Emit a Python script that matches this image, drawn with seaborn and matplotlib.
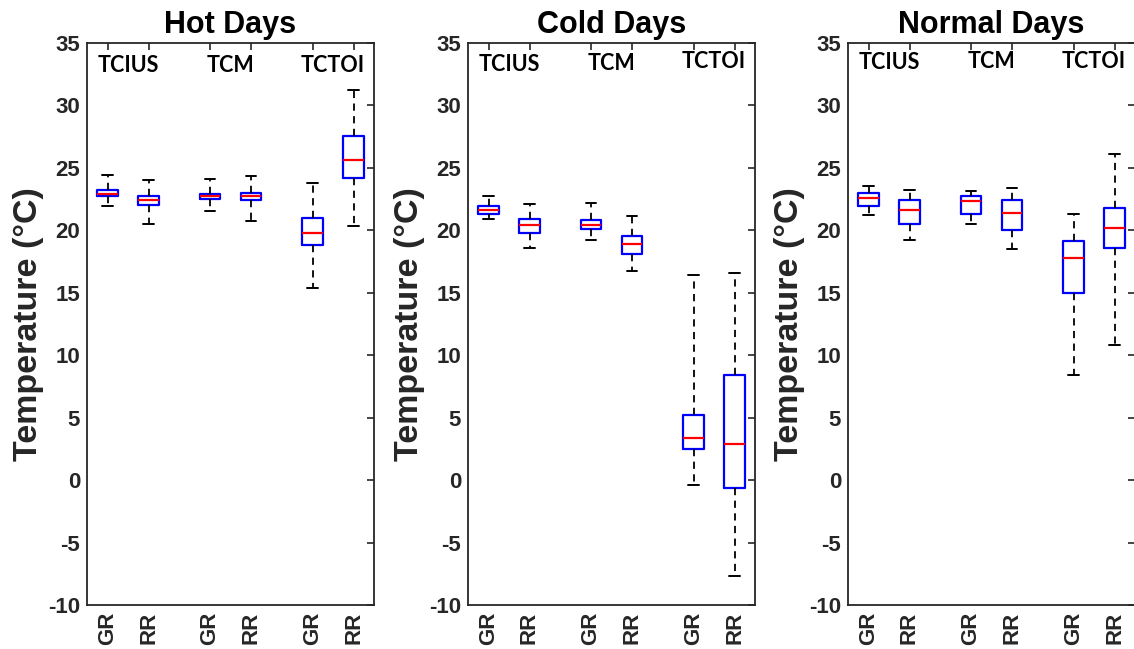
import numpy as np
import pandas as pd
import matplotlib
matplotlib.use("Agg")
import matplotlib.pyplot as plt
import seaborn as sns

# Box positions and labels (two sites per monitoring campaign)
positions = [1, 2, 3.5, 4.5, 6, 7]
site_labels = ["GR", "RR", "GR", "RR", "GR", "RR"]
group_names = ["TCIUS", "TCM", "TCTOI"]
group_centers = [1.5, 4.0, 6.5]
panel_titles = ["Hot Days", "Cold Days", "Normal Days"]

# Box statistics per panel: whisker low, Q1, median, Q3, whisker high
hot_low = [21.9, 20.5, 21.5, 20.7, 15.4, 20.3]
hot_q1 = [22.7, 22.0, 22.5, 22.4, 18.8, 24.2]
hot_median = [22.9, 22.4, 22.7, 22.7, 19.8, 25.6]
hot_q3 = [23.2, 22.7, 22.9, 23.0, 21.0, 27.5]
hot_high = [24.4, 24.0, 24.1, 24.3, 23.8, 31.2]

cold_low = [20.9, 18.6, 19.2, 16.7, -0.4, -7.7]
cold_q1 = [21.3, 19.8, 20.1, 18.1, 2.5, -0.6]
cold_median = [21.6, 20.4, 20.4, 18.9, 3.4, 2.9]
cold_q3 = [21.9, 20.9, 20.8, 19.5, 5.2, 8.4]
cold_high = [22.7, 22.1, 22.2, 21.1, 16.4, 16.6]

normal_low = [21.2, 19.2, 20.5, 18.5, 8.4, 10.8]
normal_q1 = [21.9, 20.5, 21.3, 20.0, 15.0, 18.6]
normal_median = [22.6, 21.6, 22.3, 21.4, 17.8, 20.2]
normal_q3 = [23.0, 22.4, 22.7, 22.4, 19.1, 21.8]
normal_high = [23.5, 23.2, 23.1, 23.4, 21.3, 26.1]

panels = [
    (hot_low, hot_q1, hot_median, hot_q3, hot_high),
    (cold_low, cold_q1, cold_median, cold_q3, cold_high),
    (normal_low, normal_q1, normal_median, normal_q3, normal_high),
]

# vertical placement (data units) of the campaign names in each panel
group_label_y = [
    [33.2, 33.2, 33.2],
    [33.25, 33.3, 33.5],
    [33.4, 33.5, 33.5],
]

sns.set_theme(style="white")
plt.rcParams["font.family"] = ["Liberation Sans", "DejaVu Sans"]
plt.rcParams["font.weight"] = "bold"
plt.rcParams["axes.unicode_minus"] = False

fig = plt.figure(figsize=(11.34, 6.49), dpi=100)
W, H = 1134, 649
lefts = [87, 468, 848]
axw = 287
bottom_px, top_px = 605, 42.7

for i, (stats, title) in enumerate(zip(panels, panel_titles)):
    ax = fig.add_axes([lefts[i] / W, (H - bottom_px) / H, axw / W, (bottom_px - top_px) / H])
    # five points per box reproduce the quartiles exactly; whiskers span min..max
    rows = []
    for j, pos in enumerate(positions):
        for k in range(5):
            rows.append({"pos": pos, "temp": stats[k][j]})
    df = pd.DataFrame(rows)
    sns.boxplot(
        data=df, x="pos", y="temp", native_scale=True, fill=False, width=0.5,
        whis=np.inf, color="#0000ff", linewidth=1.6, ax=ax,
        boxprops=dict(color="#0000ff", linewidth=1.6),
        medianprops=dict(color="#ff0000", linewidth=1.6),
        whiskerprops=dict(color="black", linestyle=(0, (4, 3)), linewidth=1.3),
        capprops=dict(color="black", linewidth=1.4),
    )
    ax.set_xlim(0.5, 7.5)
    ax.set_ylim(-10, 35)
    ax.set_yticks(np.arange(-10, 36, 5))
    ax.set_xticks(positions)
    ax.set_xticklabels(site_labels, rotation=90, fontsize=16, fontweight="bold")
    ax.tick_params(axis="y", labelsize=16)
    for lab in ax.get_yticklabels():
        lab.set_fontweight("bold")
    ax.tick_params(direction="in", top=True, right=True, length=5, width=1.2,
                   colors="#262626", pad=5)
    ax.set_xlabel("")
    ax.set_ylabel("Temperature (°C)", fontsize=24.5, fontweight="bold", color="#262626")
    ax.yaxis.set_label_coords(-0.15, 0.5)
    ax.set_title(title, fontsize=22, fontweight="bold", pad=7, color="black")
    for sp in ax.spines.values():
        sp.set_visible(True)
        sp.set_color("#262626")
        sp.set_linewidth(1.3)
    for name, cx, gy in zip(group_names, group_centers, group_label_y[i]):
        ax.text(cx, gy, name, ha="center", va="center", fontsize=15.5,
                fontweight="bold", family=["Lato", "DejaVu Sans"], color="black")

fig.savefig("out.png", dpi=100)
